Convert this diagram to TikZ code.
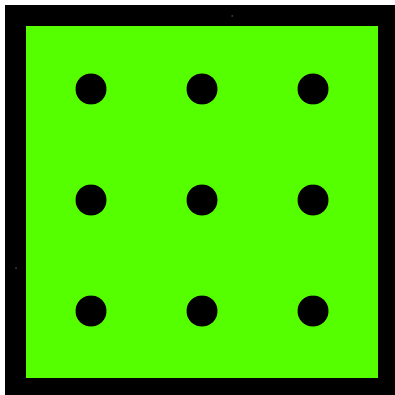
\documentclass[tikz,border=0pt]{standalone}
\definecolor{boardgreen}{RGB}{85,255,0}
\begin{document}
\begin{tikzpicture}[x=1pt,y=-1pt,
  dot/.style={circle,fill=black,inner sep=0pt,minimum size=31pt},
  tick/.style={circle,fill=black!55,inner sep=0pt,minimum size=1.5pt}]
\useasboundingbox (0,0) rectangle (395,395);
\fill[white] (0,0) rectangle (395,395);
\fill[black] (5,5) rectangle (395,395);
\fill[boardgreen] (26,26) rectangle (378,378);
\foreach \i/\x in {1/91,2/202,3/313}{
  \foreach \j/\y in {1/89,2/200,3/311}{
    \node[dot] (d\i\j) at (\x,\y) {};
  }
}
\node[tick] (t1) at (232,16) {};
\node[tick] (t2) at (16,268) {};
\end{tikzpicture}
\end{document}
